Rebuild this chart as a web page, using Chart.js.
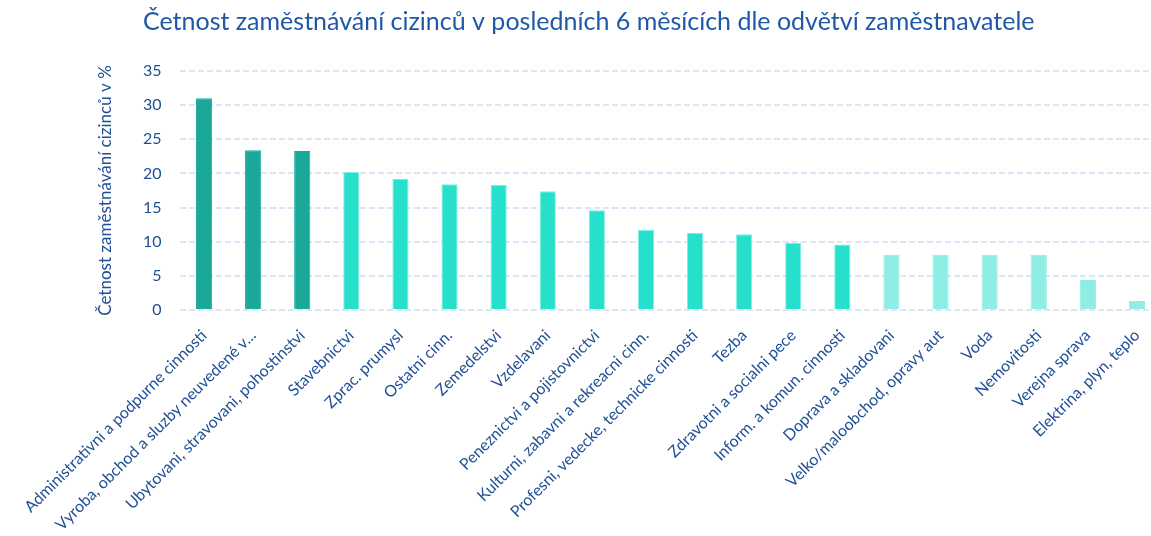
<!DOCTYPE html>
<html>
<head>
<meta charset="utf-8">
<script src="https://cdn.jsdelivr.net/npm/chart.js@4.4.1/dist/chart.umd.min.js"></script>
<style>
  html, body { margin: 0; padding: 0; background: #fff; overflow: hidden; }
  #wrap { width: 1165px; height: 536px; position: relative; }
</style>
</head>
<body>
<div id="wrap"><canvas id="chart"></canvas></div>
<script>
// ==================== DATA ====================

const categories = [
  "Administrativni a podpurne cinnosti",
  "Vyroba, obchod a sluzby neuvedené v...",
  "Ubytovani, stravovani, pohostinstvi",
  "Stavebnictvi",
  "Zprac. prumysl",
  "Ostatni cinn.",
  "Zemedelstvi",
  "Vzdelavani",
  "Peneznictvi a pojistovnictvi",
  "Kulturni, zabavni a rekreacni cinn.",
  "Profesni, vedecke, technicke cinnosti",
  "Tezba",
  "Zdravotni a socialni pece",
  "Inform. a komun. cinnosti",
  "Doprava a skladovani",
  "Velko/maloobchod, opravy aut",
  "Voda",
  "Nemovitosti",
  "Verejna sprava",
  "Elektrina, plyn, teplo",
];

const values = [31.0, 23.4, 23.3, 20.2, 19.2, 18.4, 18.3, 17.4, 14.6, 11.7,
  11.3, 11.1, 9.8, 9.6, 8.1, 8.1, 8.1, 8.1, 4.4, 1.3];

const yTicks = [0, 5, 10, 15, 20, 25, 30, 35];

// ==================== STYL ====================

const DARK = "#1aa898";
const MID = "#26e0cc";
const LIGHT = "#8eeee3";
const TEXT = "#1f4f96";
const FONT = "Lato, 'Open Sans', sans-serif";

const barColors = values.map((v, i) => (i < 3 ? DARK : i < 14 ? MID : LIGHT));
const borderColors = values.map((v, i) => (i >= 3 && i < 14 ? "#7eeee0" : barColors[i]));

// ==================== GRAF ====================

new Chart(document.getElementById("chart"), {
  type: "bar",
  data: {
    labels: categories,
    datasets: [
      {
        data: values,
        backgroundColor: barColors,
        borderColor: borderColors,
        borderWidth: 1,
        barPercentage: 0.66,
        categoryPercentage: 0.5,
      },
    ],
  },
  options: {
    responsive: true,
    maintainAspectRatio: false,
    animation: false,
    layout: { padding: { left: 16, right: 3.5, top: 0, bottom: 0 } },
    plugins: {
      legend: { display: false },
      tooltip: { enabled: false },
      title: {
        display: true,
        text: "Četnost zaměstnávání cizinců v posledních 6 měsících dle odvětví zaměstnavatele",
        color: "#2058a8",
        font: { family: FONT, size: 25, weight: "normal" },
        padding: { top: 7, bottom: 34 },
      },
    },
    scales: {
      x: {
        grid: { display: false },
        border: { display: false },
        ticks: {
          color: TEXT,
          font: { family: FONT, size: 16 },
          minRotation: 45,
          maxRotation: 45,
          autoSkip: false,
          padding: 8,
          labelOffset: 0,
        },
        afterFit: (axis) => {
          axis.height = 226;
        },
      },
      y: {
        min: 0,
        max: 35,
        afterBuildTicks: (axis) => {
          axis.ticks = yTicks.map((v) => ({ value: v }));
        },
        grid: { color: "#dbe7f8", lineWidth: 2, drawTicks: false },
        border: { display: false, dash: [6, 3] },
        ticks: {
          color: TEXT,
          font: { family: FONT, size: 16 },
          padding: 18,
        },
        title: {
          display: true,
          text: "Četnost zaměstnávání cizinců v %",
          color: TEXT,
          font: { family: FONT, size: 17 },
          padding: { top: 79, bottom: 4 },
        },
        afterFit: (axis) => {
          axis.width = 163.5;
        },
      },
    },
  },
});
</script>
</body>
</html>
